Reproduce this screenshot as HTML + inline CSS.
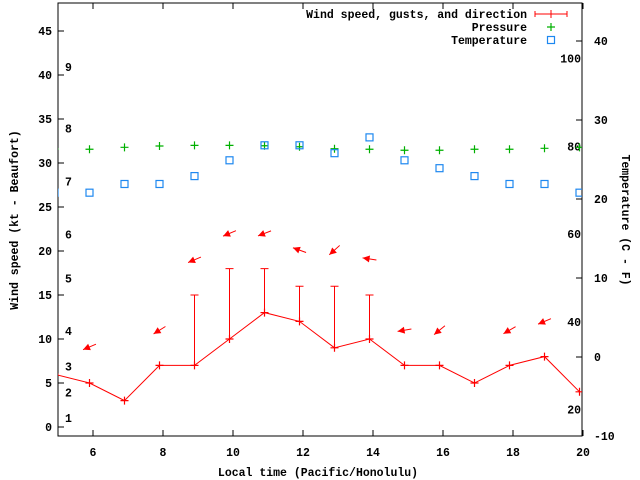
<!DOCTYPE html>
<html><head><meta charset="utf-8"><style>
body{margin:0;background:#fff}
svg{display:block}
text{font-family:"Liberation Mono",monospace;font-size:11.5px;font-weight:bold;fill:#000}
</style></head><body>
<svg id="c" width="640" height="480" xmlns="http://www.w3.org/2000/svg">
<g id="axes"></g>
<g id="marks"></g>
</svg>
<script>
const hours=[4.9,5.9,6.9,7.9,8.9,9.9,10.9,11.9,12.9,13.9,14.9,15.9,16.9,17.9,18.9,19.9];
const windSpeed=[6,5,3,7,7,10,13,12,9,10,7,7,5,7,8,4];
const gusts=[6,5,3,7,7,15,18,18,16,16,15,7,7,5,7,8,4].slice(0,0).concat([6,5,3,7,15,18,18,16,16,15,7,7,5,7,8,4]);
const pressure=[31.6,31.56,31.78,31.93,32.0,32.0,31.96,31.85,31.62,31.56,31.45,31.45,31.56,31.56,31.67,31.78];
const temperature=[20.8,20.8,21.9,21.9,22.9,24.9,26.8,26.8,25.8,27.8,24.9,23.9,22.9,21.9,21.9,20.8];
const arrowHours=[5.9,7.9,8.9,9.9,10.9,11.9,12.9,13.9,14.9,15.9,17.9,18.9];
const arrowLevel=[9.1,11,19,22,22,20.1,20.1,19.1,11,11,11,12];
const arrowFromDeg=[67,58,67,67,69,110,48,99,80,51,60,67];
const xTicks=[6,8,10,12,14,16,18,20];
const yTicks=[0,5,10,15,20,25,30,35,40,45];
const cTicks=[-10,0,10,20,30,40];
const fTicks=[20,40,60,80,100];
const beaufortLabels=["1","2","3","4","5","6","7","8","9"];
const beaufortLevels=[1,3.9,6.9,10.9,16.9,21.9,27.9,33.9,40.9];

const L=58,R=582,T=3,B=436;
const X=h=>L+(h-5)*35;
const Y=v=>427-v*8.8;
const YC=c=>357-c*7.9;
const NS="http://www.w3.org/2000/svg";
function mk(tag,attrs,parent){const e=document.createElementNS(NS,tag);for(const k in attrs)e.setAttribute(k,attrs[k]);parent.appendChild(e);return e;}
const ax=document.getElementById('axes'),mg=document.getElementById('marks');

let box=mk('rect',{x:L,y:T,width:R-L,height:B-T,fill:'none',stroke:'#000','stroke-width':1},ax);


xTicks.forEach(t=>{
 let l=mk('path',{d:`M${X(t)},${B}v-6M${X(t)},${T}v6`,stroke:'#000'},ax);
 
 
 let tx=mk('text',{x:X(t),y:B+20,'text-anchor':'middle'},ax);tx.textContent=t;
 
 
});
yTicks.forEach(t=>{
 let l=mk('path',{d:`M${L},${Y(t)}h6`,stroke:'#000'},ax);
 
 
 let tx=mk('text',{x:L-6,y:Y(t)+4,'text-anchor':'end'},ax);tx.textContent=t;
 
 
});
cTicks.forEach(t=>{
 let l=mk('path',{d:`M${R},${YC(t)}h-6`,stroke:'#000'},ax);
 
 
 let tx=mk('text',{x:R+12,y:YC(t)+4},ax);tx.textContent=t;
 
 
});
fTicks.forEach(f=>{
 let tx=mk('text',{x:R-1,y:YC((f-32)/1.8)+4,'text-anchor':'end'},ax);tx.textContent=f;
 
 
});
beaufortLabels.forEach((b,i)=>{
 let tx=mk('text',{x:65,y:Y(beaufortLevels[i])+4},ax);tx.textContent=b;
 
 
});
let xt=mk('text',{x:318,y:476,'text-anchor':'middle'},ax);xt.textContent='Local time (Pacific/Honolulu)';


let yt=mk('text',{x:0,y:0,'text-anchor':'middle',transform:'translate(18,220) rotate(-90)'},ax);yt.textContent='Wind speed (kt - Beaufort)';


let rt=mk('text',{x:0,y:0,'text-anchor':'middle',transform:'translate(622,220) rotate(90)'},ax);rt.textContent='Temperature (C - F)';



// clip
let cp=mk('clipPath',{id:'clip'},mg);mk('rect',{x:L,y:T,width:R-L,height:B-T},cp);
const g=mk('g',{'clip-path':'url(#clip)'},mg);

// pressure
pressure.forEach((p,i)=>{let x=X(hours[i]),y=Y(p);
 let e=mk('path',{d:`M${x-4},${y}h8M${x},${y-4}v8`,stroke:'#00b000','stroke-width':1.2},g);
 
 });
// temperature
temperature.forEach((c,i)=>{let x=X(hours[i]),y=YC(c);
 let e=mk('rect',{x:x-3.5,y:y-3.5,width:7,height:7,fill:'none',stroke:'#1e88f0','stroke-width':1.2},g);
 
 });
// gust bars
gusts.forEach((gv,i)=>{if(gv>windSpeed[i]){let x=X(hours[i]);
 let e=mk('path',{d:`M${x},${Y(windSpeed[i])}V${Y(gv)}M${x-4},${Y(gv)}h8`,stroke:'#f00','stroke-width':1},g);
 
 }});
// wind line
let ln=mk('polyline',{points:hours.map((h,i)=>X(h)+','+Y(windSpeed[i])).join(' '),fill:'none',stroke:'#f00','stroke-width':1},g);


windSpeed.forEach((w,i)=>{let x=X(hours[i]),y=Y(w);
 let e=mk('path',{d:`M${x-4},${y}h8M${x},${y-4}v8`,stroke:'#f00','stroke-width':1.2},g);
 
 });
// arrows
arrowHours.forEach((h,i)=>{const cx=X(h),cy=Y(arrowLevel[i]);const to=(arrowFromDeg[i]+180)*Math.PI/180;
 const dx=Math.sin(to),dy=-Math.cos(to);const Lh=7;
 const tx=cx-dx*Lh,ty=cy-dy*Lh,hx=cx+dx*Lh,hy=cy+dy*Lh;
 const px=-dy,py=dx;
 const bx=hx-dx*7,by=hy-dy*7;
 let e=mk('g',{},g);
 
 
 mk('line',{x1:tx,y1:ty,x2:hx,y2:hy,stroke:'#f00','stroke-width':1},e);
 mk('polygon',{points:`${hx},${hy} ${bx+px*3.5},${by+py*3.5} ${bx-px*3.5},${by-py*3.5}`,fill:'#f00'},e);
});
// legend
const lg=mk('g',{},mg);


[['Wind speed, gusts, and direction',14],['Pressure',27],['Temperature',40]].forEach((d,i)=>{
 let t=mk('text',{x:527,y:d[1]+4,'text-anchor':'end'},lg);t.textContent=d[0];
 
 
});
mk('path',{d:'M535,14h32M535,11v6M567,11v6M551,10v8',stroke:'#f00'},lg);
mk('path',{d:'M547,27h8M551,23v8',stroke:'#00b000','stroke-width':1.2},lg);
mk('rect',{x:547.5,y:36.5,width:7,height:7,fill:'none',stroke:'#1e88f0','stroke-width':1.2},lg);
</script>
</body></html>
